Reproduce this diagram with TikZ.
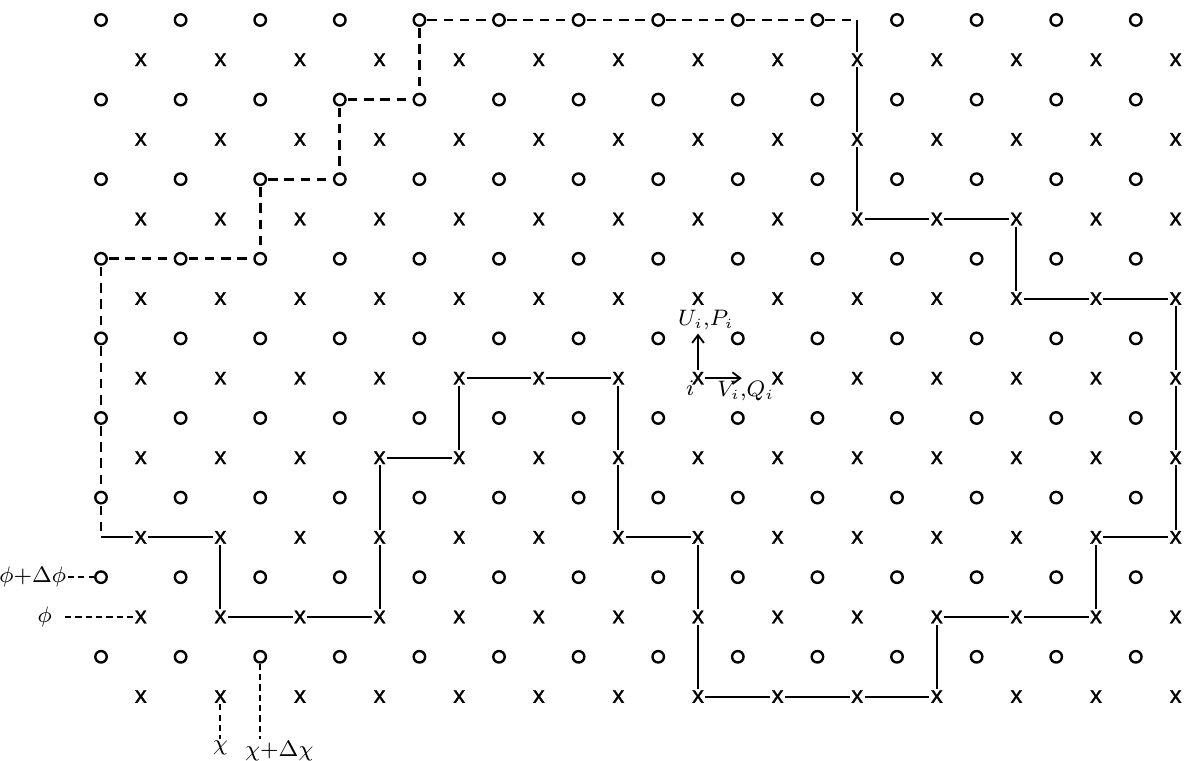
\documentclass[tikz,border=0pt]{standalone}
\usepackage{fontspec}
\newfontfamily\markfont[FakeBold=1]{Liberation Sans}
\usetikzlibrary{arrows.meta}
\tikzset{
  omark/.style={circle, draw, line width=0.85pt, minimum size=4.1pt, inner sep=0pt},
  xmark/.style={inner sep=0.3pt, font=\markfont\fontsize{8.5}{8.5}\selectfont},
  solidpath/.style={line width=0.75pt},
  dashpath/.style={line width=0.95pt, dash pattern=on 3.4pt off 2.4pt, dash phase=-0.4pt},
  labdash/.style={line width=0.7pt, dash pattern=on 2.2pt off 1.5pt},
  lab/.style={inner sep=0.5pt, font=\fontsize{7.8}{9}\selectfont},
  vec/.style={line width=0.65pt, -{Straight Barb[length=2.8pt,width=4.2pt]}},
}
\begin{document}
\begin{tikzpicture}
\useasboundingbox (-1.269,0.251) rectangle (13.618,-9.309);
% grid of o and x marks
\foreach \i in {0,...,13}{
  \foreach \j in {0,...,8}{
    \node[omark] (o-\i-\j) at (\i,-\j) {};
    \node[xmark] (x-\i-\j) at ({\i+0.5},{-\j-0.5}) {x};
  }
}
% corners where dashed and solid parts meet
\coordinate (cTR) at (9.5,0);
\coordinate (cBL) at (0,-6.5);
% dashed boundary through o points
\foreach \a/\b in {o-9-0/cTR, o-8-0/o-9-0, o-7-0/o-8-0, o-6-0/o-7-0, o-5-0/o-6-0,
  o-4-0/o-5-0, o-4-0/o-4-1, o-3-1/o-4-1, o-3-1/o-3-2, o-2-2/o-3-2, o-2-2/o-2-3,
  o-1-3/o-2-3, o-0-3/o-1-3, o-0-3/o-0-4, o-0-4/o-0-5, o-0-5/o-0-6, o-0-6/cBL}
  \draw[dashpath] (\a) -- (\b);
% solid boundary through x points
\draw[solidpath] (cBL) -- (x-0-6) -- (x-1-6) -- (x-1-7) -- (x-2-7) -- (x-3-7) -- (x-3-6)
  -- (x-3-5) -- (x-4-5) -- (x-4-4) -- (x-5-4) -- (x-6-4) -- (x-6-5) -- (x-6-6)
  -- (x-7-6) -- (x-7-7) -- (x-7-8) -- (x-8-8) -- (x-9-8) -- (x-10-8) -- (x-10-7)
  -- (x-11-7) -- (x-12-7) -- (x-12-6) -- (x-13-6) -- (x-13-5) -- (x-13-4) -- (x-13-3)
  -- (x-12-3) -- (x-11-3) -- (x-11-2) -- (x-10-2) -- (x-9-2) -- (x-9-1) -- (x-9-0) -- (cTR);
% labels on the left
\node[lab, anchor=east] (phD) at (-0.415,-7) {$\phi{+}\Delta\phi$};
\draw[labdash] (phD) -- (o-0-7);
\node[lab, anchor=east, inner xsep=4.5pt] (ph) at (-0.452,-7.5) {$\phi$};
\draw[labdash] (ph) -- (x-0-7);
% labels at the bottom
\node[lab, anchor=north] (chi) at (1.5,-9.03) {$\chi$};
\draw[labdash] (x-1-8) -- (chi);
\node[lab, anchor=north west] (chiD) at (1.79,-9.03) {$\chi{+}\Delta\chi$};
\draw[labdash] (o-2-8) -- (o-2-8 |- chiD.north);
% vectors at point i
\coordinate (uTip) at (7.5,-3.94);
\coordinate (vTip) at (8.05,-4.5);
\draw[vec] (x-7-4) -- (uTip);
\draw[vec] (x-7-4) -- (vTip);
\node[lab] (UP) at (7.6,-3.77) {$U_i{,}P_i$};
\node[lab] (VQ) at (8.1,-4.66) {$V_i{,}Q_i$};
\node[lab] (ilab) at (7.4,-4.62) {$i$};
\end{tikzpicture}
\end{document}
